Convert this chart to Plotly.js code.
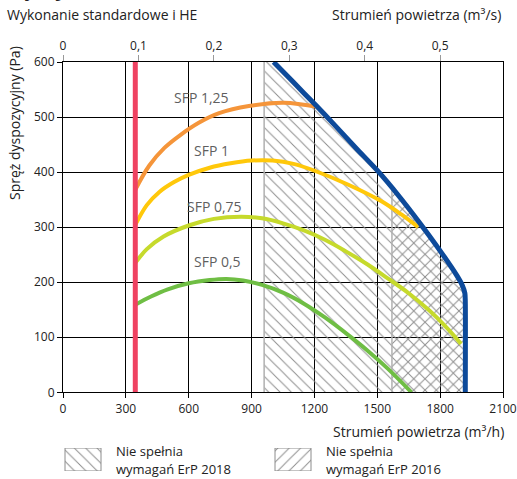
<!DOCTYPE html>
<html>
<head>
<meta charset="utf-8">
<script src="https://cdn.plot.ly/plotly-3.0.1.min.js"></script>
<style>html,body{margin:0;padding:0;background:#fff}#chart{width:517px;height:479px}</style>
</head>
<body>
<div id="chart"></div>
<script>
// ---- data (m³/h, Pa) ----
const X_TICKS = [0, 300, 600, 900, 1200, 1500, 1800, 2100];
const Y_TICKS = [0, 100, 200, 300, 400, 500, 600];
const TOP_TICKS = [0, 0.1, 0.2, 0.3, 0.4, 0.5];
const TOP_TICK_LABELS = ['0', '0,1', '0,2', '0,3', '0,4', '0,5'];

const SFP125_X = [345, 412, 484, 555, 650, 745, 887, 1053, 1219];
const SFP125_Y = [368, 412, 444, 466, 490, 507, 520, 526, 518];

const SFP1_X = [345, 400, 460, 530, 600, 700, 800, 900, 1000, 1100, 1204, 1362, 1520, 1615, 1695];
const SFP1_Y = [304, 340, 364, 382, 395, 408, 416, 421, 421, 415, 402, 377, 347, 323, 300];

const SFP075_X = [345, 400, 480, 600, 720, 850, 950, 1050, 1150, 1250, 1350, 1450, 1550, 1650, 1750, 1830, 1900];
const SFP075_Y = [235, 260, 283, 303, 315, 319, 316, 307, 294, 277, 256, 233, 207, 180, 148, 118, 88];

const SFP05_X = [345, 420, 500, 600, 700, 780, 860, 950, 1050, 1150, 1250, 1362, 1450, 1550, 1663];
const SFP05_Y = [159, 174, 187, 198, 204, 206, 203, 195, 181, 161, 136, 104, 77, 43, 0];

const MAX_X = [1005, 1100, 1200, 1300, 1400, 1500, 1600, 1700, 1800, 1880, 1905, 1918, 1920, 1920];
const MAX_Y = [600, 563, 524, 484, 443, 403, 358, 309, 257, 212, 195, 180, 165, 0];

const MIN_FLOW = 345;
const ERP2018_X = 960;
const ERP2016_X = 1570;

const SFP_LABELS = ['SFP 1,25', 'SFP 1', 'SFP 0,75', 'SFP 0,5'];
const SFP_LABEL_X = [659, 707, 722, 736];
const SFP_LABEL_Y = [535, 439, 338, 237];

const LEGEND_LINE1 = ['Nie spełnia', 'Nie spełnia'];
const LEGEND_LINE2 = ['wymagań ErP 2018', 'wymagań ErP 2016'];
const LEGEND_SHAPES = ['\\', '/'];

// ---- helpers ----
function maxCurveAt(x) {
  for (let i = 0; i < MAX_X.length - 1; i++) {
    if (x >= MAX_X[i] && x <= MAX_X[i + 1] && MAX_X[i + 1] !== MAX_X[i]) {
      const t = (x - MAX_X[i]) / (MAX_X[i + 1] - MAX_X[i]);
      return MAX_Y[i] + t * (MAX_Y[i + 1] - MAX_Y[i]);
    }
  }
  return 600;
}
function regionFrom(x0) {
  const xs = [x0], ys = [0];
  const yTop = x0 < MAX_X[0] ? 600 : maxCurveAt(x0);
  xs.push(x0); ys.push(yTop);
  for (let i = 0; i < MAX_X.length; i++) {
    if (MAX_X[i] > x0) { xs.push(MAX_X[i]); ys.push(MAX_Y[i]); }
  }
  xs.push(x0); ys.push(0);
  return {x: xs, y: ys};
}

const HATCH = '#8c8c8c';
const r2018 = regionFrom(ERP2018_X);
const r2016 = regionFrom(ERP2016_X);

const traces = [];
traces.push({x: r2018.x, y: r2018.y, mode: 'none', fill: 'toself', fillcolor: 'rgba(0,0,0,0)',
  fillpattern: {shape: '\\', fgcolor: HATCH, bgcolor: 'rgba(0,0,0,0)', size: 8, solidity: 0.12},
  hoverinfo: 'skip', showlegend: false});
traces.push({x: r2016.x, y: r2016.y, mode: 'none', fill: 'toself', fillcolor: 'rgba(0,0,0,0)',
  fillpattern: {shape: '/', fgcolor: HATCH, bgcolor: 'rgba(0,0,0,0)', size: 8, solidity: 0.12},
  hoverinfo: 'skip', showlegend: false});
traces.push({x: [ERP2018_X, ERP2018_X], y: [0, 600], mode: 'lines', line: {color: '#b0b0b0', width: 1.5}, showlegend: false, hoverinfo: 'skip'});
traces.push({x: [ERP2016_X, ERP2016_X], y: [0, maxCurveAt(ERP2016_X)], mode: 'lines', line: {color: '#b0b0b0', width: 1.5}, showlegend: false, hoverinfo: 'skip'});

const curves = [
  [SFP05_X, SFP05_Y, '#6fbe44'],
  [SFP075_X, SFP075_Y, '#c6da2c'],
  [SFP1_X, SFP1_Y, '#ffc80a'],
  [SFP125_X, SFP125_Y, '#f5953a']
];
curves.forEach(c => traces.push({x: c[0], y: c[1], mode: 'lines', line: {color: c[2], width: 4, shape: 'spline', smoothing: 1}, showlegend: false, hoverinfo: 'skip'}));
traces.push({x: MAX_X, y: MAX_Y, mode: 'lines', line: {color: '#0d4a9a', width: 5, shape: 'spline', smoothing: 0.7}, showlegend: false, hoverinfo: 'skip'});
traces.push({x: [MIN_FLOW, MIN_FLOW], y: [0, 600], mode: 'lines', line: {color: '#ef4262', width: 5}, showlegend: false, hoverinfo: 'skip'});
traces.push({x: [0], y: [0], xaxis: 'x2', yaxis: 'y', mode: 'markers', marker: {opacity: 0}, showlegend: false, hoverinfo: 'skip'});

// legend boxes (own axes, pixel units)
const BOX_W = 36, BOX_STEP = 210, BOX_X0 = 2, TEXT_DX = 50;
LEGEND_SHAPES.forEach((s, i) => {
  const x0 = BOX_X0 + i * BOX_STEP;
  traces.push({x: [x0, x0 + BOX_W, x0 + BOX_W, x0, x0], y: [0, 0, 1, 1, 0], xaxis: 'x3', yaxis: 'y3',
    mode: 'lines', fill: 'toself', fillcolor: 'rgba(0,0,0,0)', line: {color: '#8c8c8c', width: 1},
    fillpattern: {shape: s, fgcolor: HATCH, bgcolor: 'rgba(0,0,0,0)', size: 8, solidity: 0.12},
    showlegend: false, hoverinfo: 'skip'});
});

const F = '"Open Sans", "Noto Sans", sans-serif';
const annotations = [];
SFP_LABELS.forEach((t, i) => annotations.push({x: SFP_LABEL_X[i], y: SFP_LABEL_Y[i], xref: 'x', yref: 'y', text: t, showarrow: false,
  font: {family: F, size: 14, color: '#5f5f5f'}, xanchor: 'center', yanchor: 'middle'}));
LEGEND_LINE1.forEach((t, i) => annotations.push({x: BOX_X0 + i * BOX_STEP + TEXT_DX, y: 0.88, xref: 'x3', yref: 'y3', text: t, showarrow: false,
  xanchor: 'left', yanchor: 'middle', borderpad: 0, font: {family: F, size: 13, color: '#222'}}));
LEGEND_LINE2.forEach((t, i) => annotations.push({x: BOX_X0 + i * BOX_STEP + TEXT_DX, y: 0.07, xref: 'x3', yref: 'y3', text: t, showarrow: false,
  xanchor: 'left', yanchor: 'middle', borderpad: 0, font: {family: F, size: 13, color: '#222'}}));
annotations.push({xref: 'paper', yref: 'paper', x: -0.1318, y: 1.1165, xanchor: 'left', yanchor: 'middle', showarrow: false,
  text: 'Wykonanie standardowe i HE', font: {family: F, size: 14, color: '#222'}});
annotations.push({xref: 'paper', yref: 'paper', x: 1.0, y: 1.1165, xanchor: 'right', yanchor: 'middle', showarrow: false,
  text: 'Strumień powietrza (m³/s)', font: {family: F, size: 14, color: '#222'}});
annotations.push({xref: 'paper', yref: 'paper', x: 1.0045, y: 0.104, xanchor: 'right', yanchor: 'middle', showarrow: false, borderpad: 0,
  text: 'Strumień powietrza (m³/h)', font: {family: F, size: 14, color: '#222'}});
annotations.push({xref: 'paper', yref: 'paper', x: -0.109, y: 0.852, xanchor: 'center', yanchor: 'middle', showarrow: false, textangle: -90,
  text: 'Spręż dyspozycyjny (Pa)', font: {family: F, size: 14, color: '#222'}});
annotations.push({xref: 'paper', yref: 'paper', x: -0.1318, y: 1.1408, xanchor: 'left', yanchor: 'bottom', showarrow: false,
  text: '<b>Wydajność</b>', font: {family: F, size: 18, color: '#222'}});

const axisBase = {showgrid: true, gridcolor: '#000', gridwidth: 1, showline: true, linecolor: '#000', linewidth: 1, mirror: true,
  ticks: 'outside', ticklen: 5, tickcolor: '#000', zeroline: false, tickfont: {family: F, size: 12, color: '#222'}, fixedrange: true,
  ticklabeloverflow: 'allow'};

const layout = {
  width: 517, height: 479,
  margin: {l: 63, r: 14, t: 62, b: 5},
  paper_bgcolor: '#fff', plot_bgcolor: '#fff',
  font: {family: F},
  showlegend: false,
  xaxis: Object.assign({}, axisBase, {range: [0, 2100], tickvals: X_TICKS, ticktext: X_TICKS.map(String), domain: [0, 1], anchor: 'y'}),
  yaxis: Object.assign({}, axisBase, {range: [0, 600], tickvals: Y_TICKS, ticktext: Y_TICKS.map(String), domain: [0.1983, 1], anchor: 'x'}),
  xaxis2: {overlaying: 'x', side: 'top', anchor: 'y', range: [0, 2100 / 3600], tickvals: TOP_TICKS, ticktext: TOP_TICK_LABELS,
    ticks: 'outside', ticklen: 6, tickcolor: '#999', showgrid: false, showline: false, zeroline: false,
    tickfont: {family: F, size: 12, color: '#222'}, fixedrange: true},
  xaxis3: {domain: [0, 1], anchor: 'y3', range: [0, 440], visible: false, fixedrange: true},
  yaxis3: {domain: [0.0073, 0.0631], anchor: 'x3', range: [0, 1], visible: false, fixedrange: true},
  annotations: annotations
};

Plotly.newPlot('chart', traces, layout, {staticPlot: true, displayModeBar: false});
</script>
</body>
</html>
